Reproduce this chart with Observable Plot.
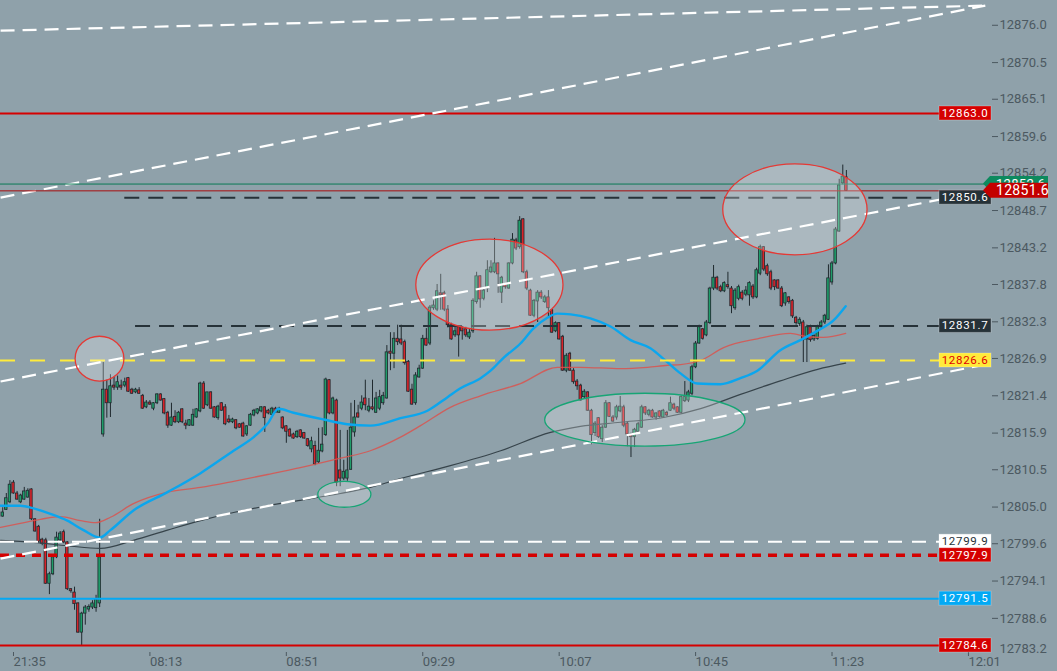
<!DOCTYPE html>
<html>
<head>
<meta charset="utf-8">
<script src="https://cdn.jsdelivr.net/npm/d3@7"></script>
<script src="https://cdn.jsdelivr.net/npm/@observablehq/plot@0.6"></script>
<style>
  html, body { margin: 0; padding: 0; background: #8fa1aa; }
  #chart { width: 1057px; height: 671px; }
</style>
</head>
<body>
<div id="chart"></div>
<script>
// 1-minute candles, index 0 = the 21:35 bar
const firstIndex = -3;
const open = [
  12803.6,12804.6,12805.7,12808.6,12807.0,12805.7,12806.1,12806.4,12807.6,12803.2,
  12802.1,12800.2,12800.1,12793.7,12795.1,12797.6,12800.1,12801.3,12799.8,12792.9,
  12792.4,12790.8,12786.5,12789.3,12789.9,12790.2,12790.1,12790.8,12815.7,12822.3,
  12820.3,12822.9,12822.6,12822.9,12822.9,12824.0,12822.3,12821.9,12822.2,12821.4,
  12819.7,12820.4,12819.5,12820.3,12821.6,12820.9,12818.9,12817.0,12818.3,12817.5,
  12819.4,12817.3,12817.0,12817.0,12818.2,12819.1,12823.2,12820.0,12821.9,12819.7,
  12818.1,12820.3,12819.7,12817.9,12817.5,12817.8,12817.2,12817.3,12815.7,12817.0,
  12818.5,12818.8,12819.1,12819.7,12819.2,12818.6,12819.5,12818.9,12818.2,12816.9,
  12816.4,12815.7,12815.3,12816.3,12815.9,12815.0,12813.5,12814.0,12811.6,12813.2,
  12815.6,12823.7,12818.8,12820.7,12810.4,12809.2,12809.2,12810.5,12816.0,12818.8,
  12819.5,12821.0,12819.2,12819.7,12818.9,12819.5,12820.3,12821.0,12827.9,12827.6,
  12829.8,12829.7,12829.3,12826.4,12822.3,12820.3,12824.1,12825.4,12829.8,12829.1,
  12834.3,12834.1,12836.5,12836.5,12834.1,12831.8,12830.3,12831.5,12831.5,12831.2,
  12830.0,12830.9,12835.2,12839.0,12835.7,12837.2,12839.6,12839.6,12840.9,12836.6,
  12837.7,12837.2,12840.9,12844.3,12843.3,12847.4,12839.6,12836.9,12833.2,12835.3,
  12836.6,12835.2,12835.9,12834.0,12830.9,12832.1,12830.1,12825.1,12827.6,12825.1,
  12823.5,12822.9,12821.2,12821.9,12819.2,12815.9,12818.1,12815.0,12816.7,12820.3,
  12818.2,12818.2,12819.1,12819.7,12817.3,12815.7,12815.3,12816.1,12816.7,12819.7,
  12818.6,12819.2,12818.2,12819.1,12818.2,12818.9,12819.2,12820.1,12819.7,12818.9,
  12820.6,12820.7,12821.7,12825.6,12829.1,12831.2,12830.3,12832.1,12837.2,12838.8,
  12837.4,12836.8,12837.7,12837.2,12834.3,12835.7,12836.6,12836.3,12836.2,12837.5,
  12835.9,12839.4,12843.3,12840.5,12839.6,12838.4,12838.4,12837.2,12835.0,12835.9,
  12835.4,12832.9,12832.0,12832.2,12829.7,12831.5,12829.7,12829.8,12831.5,12832.2,
  12832.6,12838.1,12840.9,12845.6,12852.7,12853.6
];
const high = [
  12804.9,12807.0,12808.9,12808.9,12807.3,12806.9,12807.9,12807.7,12807.7,12803.3,
  12802.3,12800.4,12800.4,12795.4,12797.9,12801.3,12801.4,12801.6,12799.9,12793.0,
  12793.2,12790.9,12789.5,12790.5,12790.6,12791.2,12792.0,12803.2,12826.3,12823.7,
  12824.5,12824.1,12824.3,12823.7,12824.0,12824.1,12822.5,12822.5,12822.6,12821.6,
  12820.7,12820.7,12820.4,12821.7,12821.7,12821.0,12819.1,12820.3,12819.2,12819.1,
  12819.5,12817.8,12817.9,12819.4,12819.5,12823.4,12823.5,12821.9,12822.0,12819.8,
  12820.0,12820.4,12820.1,12818.5,12818.1,12817.9,12817.3,12817.5,12817.0,12818.8,
  12819.4,12819.5,12819.8,12819.8,12819.4,12819.7,12819.7,12819.7,12818.3,12817.0,
  12816.6,12815.9,12816.3,12816.4,12816.0,12815.1,12815.3,12814.7,12816.6,12816.7,
  12824.0,12823.8,12821.2,12820.9,12816.3,12811.9,12816.3,12820.3,12820.7,12820.0,
  12821.4,12823.7,12821.0,12823.7,12821.9,12822.2,12821.9,12828.8,12830.7,12830.7,
  12831.8,12831.8,12829.6,12826.6,12823.1,12824.8,12825.9,12830.3,12831.3,12834.7,
  12835.4,12837.8,12839.3,12836.8,12834.7,12832.1,12831.6,12831.6,12831.6,12831.5,
  12831.2,12835.7,12839.6,12839.1,12837.2,12841.3,12841.3,12844.6,12841.0,12839.0,
  12837.8,12841.0,12845.3,12844.6,12847.8,12847.5,12839.9,12837.1,12835.6,12836.9,
  12836.9,12836.2,12836.9,12834.1,12832.3,12832.2,12830.3,12827.6,12827.8,12825.4,
  12823.8,12823.1,12822.3,12822.0,12819.4,12817.6,12818.2,12817.0,12820.7,12820.4,
  12818.5,12820.0,12821.3,12820.0,12817.5,12815.9,12816.6,12817.5,12820.0,12819.8,
  12819.4,12819.4,12818.9,12819.2,12819.4,12819.1,12821.2,12820.3,12819.8,12821.4,
  12823.5,12822.2,12825.9,12829.4,12831.8,12831.3,12832.5,12837.4,12840.6,12839.0,
  12837.7,12838.2,12839.6,12837.5,12837.2,12837.7,12836.9,12837.5,12838.2,12837.8,
  12840.2,12843.6,12843.4,12840.8,12839.9,12838.5,12838.5,12837.5,12836.6,12836.0,
  12835.6,12833.1,12832.9,12832.5,12831.8,12831.8,12830.4,12831.8,12832.5,12833.4,
  12840.7,12841.2,12846.2,12853.3,12855.4,12854.6
];
const low = [
  12803.5,12804.5,12805.5,12806.9,12806.0,12805.5,12806.0,12806.3,12803.0,12801.3,
  12799.8,12799.3,12793.6,12792.1,12794.9,12797.4,12799.9,12799.6,12792.7,12792.3,
  12789.8,12786.4,12784.6,12787.6,12789.5,12789.9,12789.5,12790.2,12815.3,12818.1,
  12818.2,12822.2,12822.2,12822.2,12822.6,12821.9,12821.6,12821.7,12821.6,12819.4,
  12819.5,12820.0,12819.2,12820.1,12820.6,12818.6,12816.6,12816.9,12817.3,12817.3,
  12817.3,12816.4,12816.9,12816.9,12818.1,12818.9,12819.4,12819.8,12819.4,12818.1,
  12817.8,12819.1,12817.0,12817.3,12817.3,12816.4,12816.6,12815.3,12815.4,12816.9,
  12818.3,12818.6,12818.9,12816.0,12818.6,12818.5,12818.8,12818.8,12816.4,12814.4,
  12815.3,12815.0,12815.1,12815.1,12815.0,12813.8,12813.0,12811.1,12811.4,12813.0,
  12815.4,12818.6,12818.6,12808.0,12808.0,12808.9,12808.8,12810.4,12815.3,12818.1,
  12819.2,12819.2,12818.9,12819.2,12818.8,12819.2,12820.0,12820.9,12825.1,12825.4,
  12828.8,12828.8,12825.9,12821.9,12820.0,12820.0,12824.0,12825.3,12828.7,12828.8,
  12834.0,12833.8,12834.0,12833.8,12831.4,12829.6,12830.0,12827.1,12829.6,12830.0,
  12829.7,12830.6,12834.9,12834.3,12835.4,12836.6,12839.4,12839.4,12836.5,12835.0,
  12837.1,12837.1,12840.7,12842.8,12843.0,12839.4,12836.9,12833.1,12832.9,12832.2,
  12835.6,12835.0,12832.8,12830.6,12830.7,12829.6,12825.0,12824.8,12825.0,12823.1,
  12822.2,12820.6,12821.0,12819.1,12814.2,12815.4,12815.1,12814.5,12816.6,12818.2,
  12817.5,12817.8,12818.9,12816.7,12813.9,12812.3,12813.8,12816.0,12816.6,12818.5,
  12818.3,12818.1,12817.8,12818.1,12818.1,12818.3,12819.1,12819.2,12818.8,12818.8,
  12820.4,12820.4,12821.4,12825.4,12829.0,12829.6,12830.1,12831.9,12836.9,12836.9,
  12836.6,12836.6,12837.1,12833.5,12834.0,12835.4,12835.4,12836.0,12834.6,12835.6,
  12835.7,12839.1,12839.7,12839.0,12836.9,12836.9,12837.1,12834.4,12834.6,12834.9,
  12832.8,12831.8,12831.6,12826.3,12826.3,12829.3,12829.4,12829.6,12831.2,12831.9,
  12832.5,12837.7,12840.7,12845.5,12852.5,12851.5
];
const close = [
  12804.2,12806.3,12808.3,12807.0,12806.1,12806.7,12807.3,12807.4,12803.2,12801.4,
  12799.9,12799.6,12793.7,12795.1,12797.6,12800.5,12801.1,12799.8,12792.9,12792.6,
  12790.7,12786.5,12789.3,12790.2,12790.3,12790.8,12791.4,12797.6,12822.3,12820.3,
  12822.8,12822.6,12823.4,12822.6,12823.4,12822.0,12821.7,12822.3,12821.7,12819.5,
  12820.4,12820.1,12820.3,12821.6,12820.7,12818.8,12817.0,12818.2,12817.5,12818.9,
  12817.5,12817.0,12817.8,12818.6,12819.4,12823.2,12819.5,12821.9,12819.5,12818.2,
  12819.8,12819.2,12817.2,12817.5,12817.9,12816.6,12816.7,12815.4,12816.9,12818.6,
  12819.2,12819.4,12819.7,12818.1,12818.8,12819.5,12818.9,12819.5,12816.6,12816.1,
  12815.4,12815.1,12816.1,12815.3,12815.1,12814.0,12814.7,12811.3,12813.3,12814.2,
  12823.8,12818.8,12821.0,12808.6,12809.2,12810.2,12810.4,12816.7,12818.2,12818.2,
  12820.4,12820.0,12819.8,12819.4,12821.0,12821.2,12821.4,12827.8,12827.6,12829.8,
  12829.3,12829.1,12826.2,12822.0,12820.1,12824.4,12825.4,12829.8,12828.8,12834.4,
  12834.7,12836.8,12836.2,12834.1,12831.8,12829.7,12830.9,12830.3,12830.9,12830.3,
  12830.7,12835.4,12839.0,12835.6,12836.9,12839.9,12840.3,12840.9,12839.3,12838.8,
  12837.4,12840.9,12844.4,12843.1,12847.2,12839.6,12837.2,12833.2,12835.4,12836.6,
  12835.9,12835.9,12834.3,12830.7,12832.1,12829.7,12825.1,12827.3,12825.1,12823.4,
  12822.8,12820.7,12822.0,12819.2,12815.6,12817.3,12815.3,12816.7,12820.3,12818.3,
  12817.6,12819.7,12819.8,12817.0,12815.7,12815.3,12816.4,12817.2,12819.7,12818.8,
  12819.2,12818.2,12818.8,12818.3,12819.2,12818.5,12820.3,12819.5,12818.9,12821.2,
  12821.2,12821.9,12825.6,12829.1,12831.5,12829.8,12832.2,12837.2,12838.8,12837.2,
  12836.8,12838.0,12837.4,12834.6,12836.9,12837.4,12835.7,12836.9,12838.0,12835.9,
  12839.9,12843.3,12840.0,12839.3,12837.2,12837.4,12837.2,12834.6,12836.5,12835.2,
  12833.1,12832.1,12832.6,12829.6,12831.5,12829.6,12830.2,12831.5,12832.2,12833.2,
  12838.7,12840.9,12845.9,12852.4,12853.7,12851.6
];

// moving averages, read at sample bars
const fastIdx = [-3.6,1.9,5.6,10.3,15.0,19.5,24.0,27.0,33.4,42.9,52.1,61.3,66.9,70.8,73.8,78.0,86.4,93.0,99.4,107.8,115.3,120.9,124.5,130.1,132.9,136.5,141.2,144.8,148.7,151.5,155.2,160.7,166.3,171.9,177.4,181.6,185.8,190.5,196.9,202.5,207.2,213.6,219.2,224.0,228.4,231.8];
const fastVal = [12805.2,12805.2,12804.8,12804.0,12803.0,12801.6,12800.5,12801.6,12804.5,12807.2,12810.0,12813.3,12815.3,12817.3,12819.5,12818.9,12817.9,12817.2,12817.0,12818.1,12819.2,12821.2,12822.5,12824.0,12825.1,12827.0,12829.1,12831.3,12832.9,12833.5,12833.4,12832.8,12831.6,12829.6,12828.4,12826.6,12824.7,12823.2,12823.1,12824.0,12825.1,12828.1,12829.6,12831.0,12832.5,12834.6];
const midIdx = [-3.6,1.9,7.5,13.1,18.7,22.8,27.0,33.4,42.9,52.1,61.3,70.8,79.9,91.1,99.4,107.8,113.4,121.7,130.1,141.2,151.5,157.9,169.1,176.6,182.2,185.8,191.4,197.8,207.2,216.4,221.2,225.6,231.8];
const midVal = [12802.0,12802.6,12803.2,12803.6,12803.0,12802.7,12803.5,12805.5,12807.2,12807.9,12808.8,12809.8,12810.8,12812.2,12813.3,12815.3,12817.0,12819.7,12821.4,12823.2,12825.6,12825.6,12825.4,12825.6,12825.9,12826.0,12826.6,12828.5,12829.8,12830.6,12830.1,12830.0,12830.6];
const slowIdx = [-3.6,5.6,15.0,24.2,33.4,42.9,52.1,61.3,70.8,79.9,91.1,99.4,107.8,121.7,135.7,149.6,157.9,169.1,181.1,191.4,202.5,213.6,224.0,231.8];
const slowVal = [12800.1,12799.8,12799.3,12798.9,12800.1,12801.6,12803.0,12804.2,12805.2,12806.0,12807.0,12807.9,12809.2,12811.1,12813.3,12816.0,12816.9,12817.5,12818.2,12819.5,12821.6,12823.6,12825.3,12826.2];

// horizontal levels
const redLevels = [12863.0, 12784.6];
const blackLevels = [12850.6, 12831.7];
const blackLevelStart = [31, 34];
const yellowLevel = [12826.6];
const whiteLevel = [12799.9];
const redDashLevel = [12797.9];
const blueLevel = [12791.5];
const bidPrice = [12852.6];
const lastPrice = [12851.6];

// trend lines (bar index, price)
const trendX1 = [-3.6, -3.6, -3.6, -3.6];
const trendY1 = [12875.2, 12850.6, 12823.5, 12797.4];
const trendX2 = [270.7, 270.7, 270.7, 270.7];
const trendY2 = [12878.9, 12878.9, 12851.6, 12826.0];

// ellipse drawings: centre (bar, price), radii (bars, points)
const ellipseIdx = [24.1, 92.3, 132.7, 176.0, 217.8];
const ellipsePrice = [12826.8, 12806.8, 12837.7, 12817.8, 12848.8];
const ellipseRx = [6.8, 7.4, 20.5, 27.9, 20.1];
const ellipseRy = [3.3, 1.9, 6.7, 3.9, 6.7];
const ellipseKind = ["top", "bottom", "top", "bottom", "top"];

// axis ticks
const timeTickIdx = [0, 38, 76, 114, 152, 190, 228, 266];
const timeLabels = ["21:35", "08:13", "08:51", "09:29", "10:07", "10:45", "11:23", "12:01"];
const priceTicks = [12876.0,12870.5,12865.1,12859.6,12854.2,12848.7,12843.2,12837.8,12832.3,12826.9,12821.4,12815.9,12810.5,12805.0,12799.6,12794.1,12788.6];
const priceTickBottom = [12783.2];

const xDomain = [-3.62, 270.75];
const yDomain = [12783.57, 12879.65];

const candles = open.map((o, k) => ({i: firstIndex + k, o, h: high[k], l: low[k], c: close[k]}));
const fast = fastIdx.map((i, k) => ({i, v: fastVal[k]}));
const mid = midIdx.map((i, k) => ({i, v: midVal[k]}));
const slow = slowIdx.map((i, k) => ({i, v: slowVal[k]}));
const blackRows = blackLevels.map((v, k) => ({v, start: blackLevelStart[k]}));
const trends = trendX1.map((x1, k) => ({x1, y1: trendY1[k], x2: trendX2[k], y2: trendY2[k]}));
const timeLabel = new Map(timeTickIdx.map((t, k) => [t, timeLabels[k]]));

const outline = "#1f292e";
const chart = Plot.plot({
  width: 1057,
  height: 671,
  marginLeft: 0,
  marginRight: 72,
  marginTop: 0,
  marginBottom: 19,
  style: {background: "#8fa1aa", color: "#4c5961", fontFamily: "Roboto, sans-serif", fontSize: "13px"},
  x: {domain: xDomain},
  y: {domain: yDomain},
  marks: [
    Plot.ruleX(candles, {x: "i", y1: "l", y2: "h", stroke: outline, strokeWidth: 1}),
    Plot.rect(candles.filter(d => d.c >= d.o), {
      x1: d => d.i - 0.34, x2: d => d.i + 0.34, y1: "o", y2: "c",
      fill: "#1f9d6a", stroke: outline, strokeWidth: 0.8
    }),
    Plot.rect(candles.filter(d => d.c < d.o), {
      x1: d => d.i - 0.34, x2: d => d.i + 0.34, y1: "o", y2: "c",
      fill: "#d8232a", stroke: outline, strokeWidth: 0.8
    }),
    Plot.line(slow, {x: "i", y: "v", stroke: "#37444b", strokeWidth: 1.2, curve: "monotone-x"}),
    Plot.line(mid, {x: "i", y: "v", stroke: "#d9534f", strokeWidth: 1.3, strokeOpacity: 0.85, curve: "monotone-x"}),
    Plot.line(fast, {x: "i", y: "v", stroke: "#0ba6ee", strokeWidth: 2.4, curve: "monotone-x"}),
    Plot.ruleY(redLevels, {stroke: "#d50000", strokeWidth: 2.2}),
    Plot.ruleY(blackRows, {y: "v", x1: "start", x2: () => xDomain[1], stroke: "#263238", strokeWidth: 2, strokeDasharray: "15,9"}),
    Plot.ruleY(yellowLevel, {stroke: "#ffeb3b", strokeWidth: 2, strokeDasharray: "15,15"}),
    Plot.ruleY(whiteLevel, {stroke: "#ffffff", strokeWidth: 2, strokeDasharray: "14,10"}),
    Plot.ruleY(redDashLevel, {stroke: "#d50000", strokeWidth: 3.5, strokeDasharray: "9,7"}),
    Plot.ruleY(blueLevel, {stroke: "#03a9f4", strokeWidth: 2}),
    Plot.link(trends, {x1: "x1", y1: "y1", x2: "x2", y2: "y2", stroke: "#ffffff", strokeWidth: 2.2, strokeDasharray: "14,8"}),
    Plot.ruleY(bidPrice, {stroke: "#0b7a55", strokeWidth: 1, ariaLabel: "price lines"}),
    Plot.ruleY(lastPrice, {stroke: "#a80f0f", strokeWidth: 1}),
    Plot.axisY(priceTicks, {anchor: "right", tickSize: 6, tickPadding: 2, dx: 6, tickFormat: d => d.toFixed(1)}),
    Plot.axisY(priceTickBottom, {anchor: "right", tickSize: 0, tickPadding: 8, dx: 6, dy: -6, tickFormat: d => d.toFixed(1)}),
    Plot.axisX(timeTickIdx, {anchor: "bottom", tickSize: 4, tickPadding: 0, textAnchor: "start", tickFormat: d => timeLabel.get(d)})
  ]
});

// ellipses and price tags, placed with the chart's own scales
const sx = chart.scale("x"), sy = chart.scale("y");
const px = d3.scaleLinear(sx.domain, sx.range);
const py = d3.scaleLinear(sy.domain, sy.range);

const drawings = d3.create("svg:g").attr("aria-label", "drawings");
ellipseIdx.forEach((c, k) => {
  drawings.append("ellipse")
    .attr("cx", px(c))
    .attr("cy", py(ellipsePrice[k]))
    .attr("rx", px(c + ellipseRx[k]) - px(c))
    .attr("ry", py(ellipsePrice[k] - ellipseRy[k]) - py(ellipsePrice[k]))
    .attr("fill", "#ffffff")
    .attr("fill-opacity", 0.25)
    .attr("stroke", ellipseKind[k] === "top" ? "#e53935" : "#17a575")
    .attr("stroke-width", 1.3);
});
chart.insertBefore(drawings.node(), chart.querySelector('g[aria-label="price lines"]'));

const svg = d3.select(chart);
const boxes = [
  {v: redLevels[0], bg: "#d50000", fg: "#ffffff"},
  {v: blackLevels[0], bg: "#263238", fg: "#ffffff"},
  {v: blackLevels[1], bg: "#263238", fg: "#ffffff"},
  {v: yellowLevel[0], bg: "#ffeb3b", fg: "#e00000"},
  {v: whiteLevel[0], bg: "#ffffff", fg: "#263238"},
  {v: redDashLevel[0], bg: "#d50000", fg: "#ffffff"},
  {v: blueLevel[0], bg: "#03a9f4", fg: "#ffffff"},
  {v: redLevels[1], bg: "#d50000", fg: "#ffffff"}
];
const tags = svg.append("g").attr("aria-label", "level tags").attr("text-anchor", "middle");
boxes.forEach(b => {
  const y = py(b.v);
  tags.append("rect").attr("x", 939).attr("y", y - 7).attr("width", 52).attr("height", 14)
    .attr("fill", b.bg).attr("stroke", "#ffffff").attr("stroke-opacity", 0.25);
  tags.append("text").attr("x", 965).attr("y", y).attr("dy", "0.35em")
    .attr("fill", b.fg).attr("font-size", 11.5).attr("letter-spacing", 0.7)
    .text(b.v.toFixed(1));
});

const priceTags = svg.append("g").attr("aria-label", "price tags").attr("text-anchor", "start");
function priceTag(v, bg, size) {
  const y = py(v);
  priceTags.append("path")
    .attr("d", `M983,${y} L990,${y - 7.5} L1048,${y - 7.5} L1048,${y + 7.5} L990,${y + 7.5} Z`)
    .attr("fill", bg);
  priceTags.append("text").attr("x", 996).attr("y", y).attr("dy", "0.36em")
    .attr("fill", "#ffffff").attr("font-size", size).attr("letter-spacing", 0.3)
    .text(v.toFixed(1));
}
priceTag(bidPrice[0], "#0d8a5e", 13);
priceTag(lastPrice[0], "#c40000", 14);

document.getElementById("chart").append(chart);
</script>
</body>
</html>
